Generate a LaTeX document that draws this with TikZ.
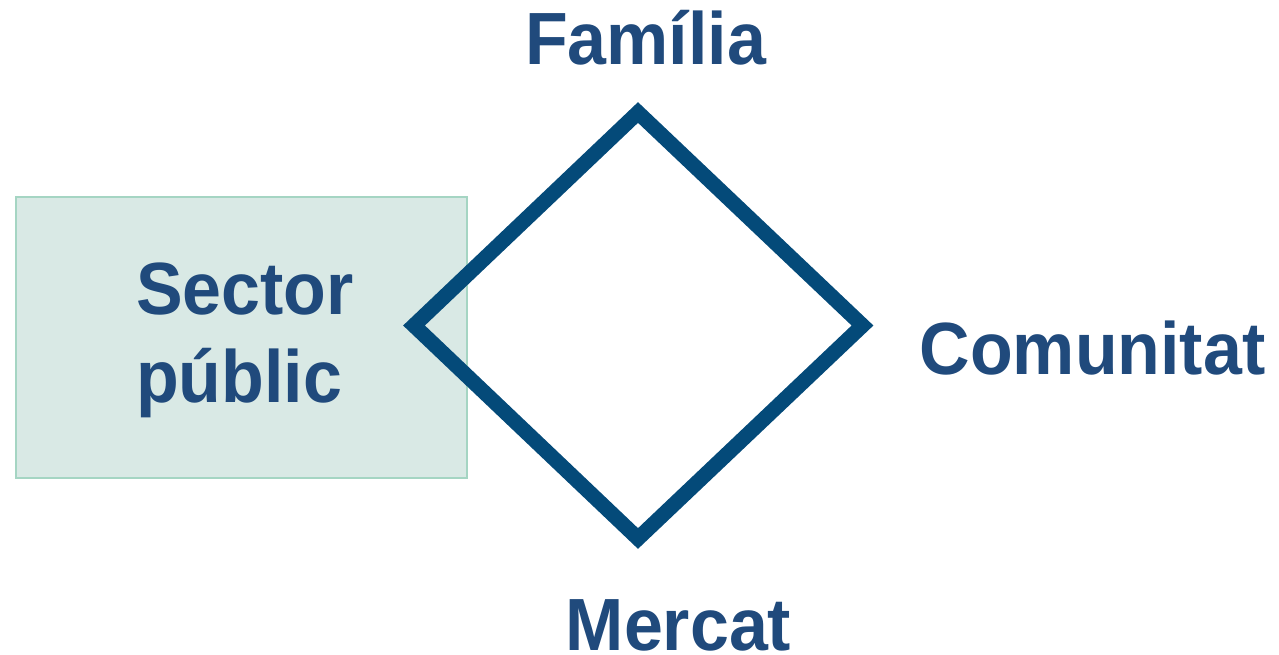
\documentclass[tikz,border=0pt]{standalone}
\usepackage{fontspec}
\setmainfont[FakeStretch=0.945]{Liberation Sans}
\definecolor{txt}{HTML}{204A7C}
\definecolor{dia}{HTML}{044A79}
\definecolor{boxfill}{HTML}{D9E9E5}
\definecolor{boxline}{HTML}{A5D5C3}
\tikzset{
  lbl/.style={text=txt, font=\fontsize{74}{88}\selectfont\bfseries, inner sep=0pt, anchor=base},
  lblw/.style={lbl, anchor=base west},
  panel/.style={draw=boxline, fill=boxfill, line width=2pt, minimum width=451pt, minimum height=281pt, inner sep=0pt},
  rhomb/.style={draw=dia, line width=15pt, line join=miter, miter limit=10}
}
\begin{document}
\begin{tikzpicture}[x=1pt,y=-1pt]
\useasboundingbox (0,0) rectangle (1279,655);
\node[panel] (box) at (241,337.5) {};
\coordinate (top) at (638,112.5);
\coordinate (right) at (862.5,325.5);
\coordinate (bottom) at (638,538.5);
\coordinate (left) at (414,325.5);
\draw[rhomb] (top) -- (right) -- (bottom) -- (left) -- cycle;
\node[lbl] (familia) at (645.5,65) {Família};
\node[lbl, text depth=0pt] (mercat) at (678.5,650) {Mercat};
\node[lbl] (comunitat) at (1092.5,374) {Comunitat};
\node[lblw] (sector) at (136,314) {Sector};
\node[lblw] (public) at (136,402) {públic};
\end{tikzpicture}
\end{document}
